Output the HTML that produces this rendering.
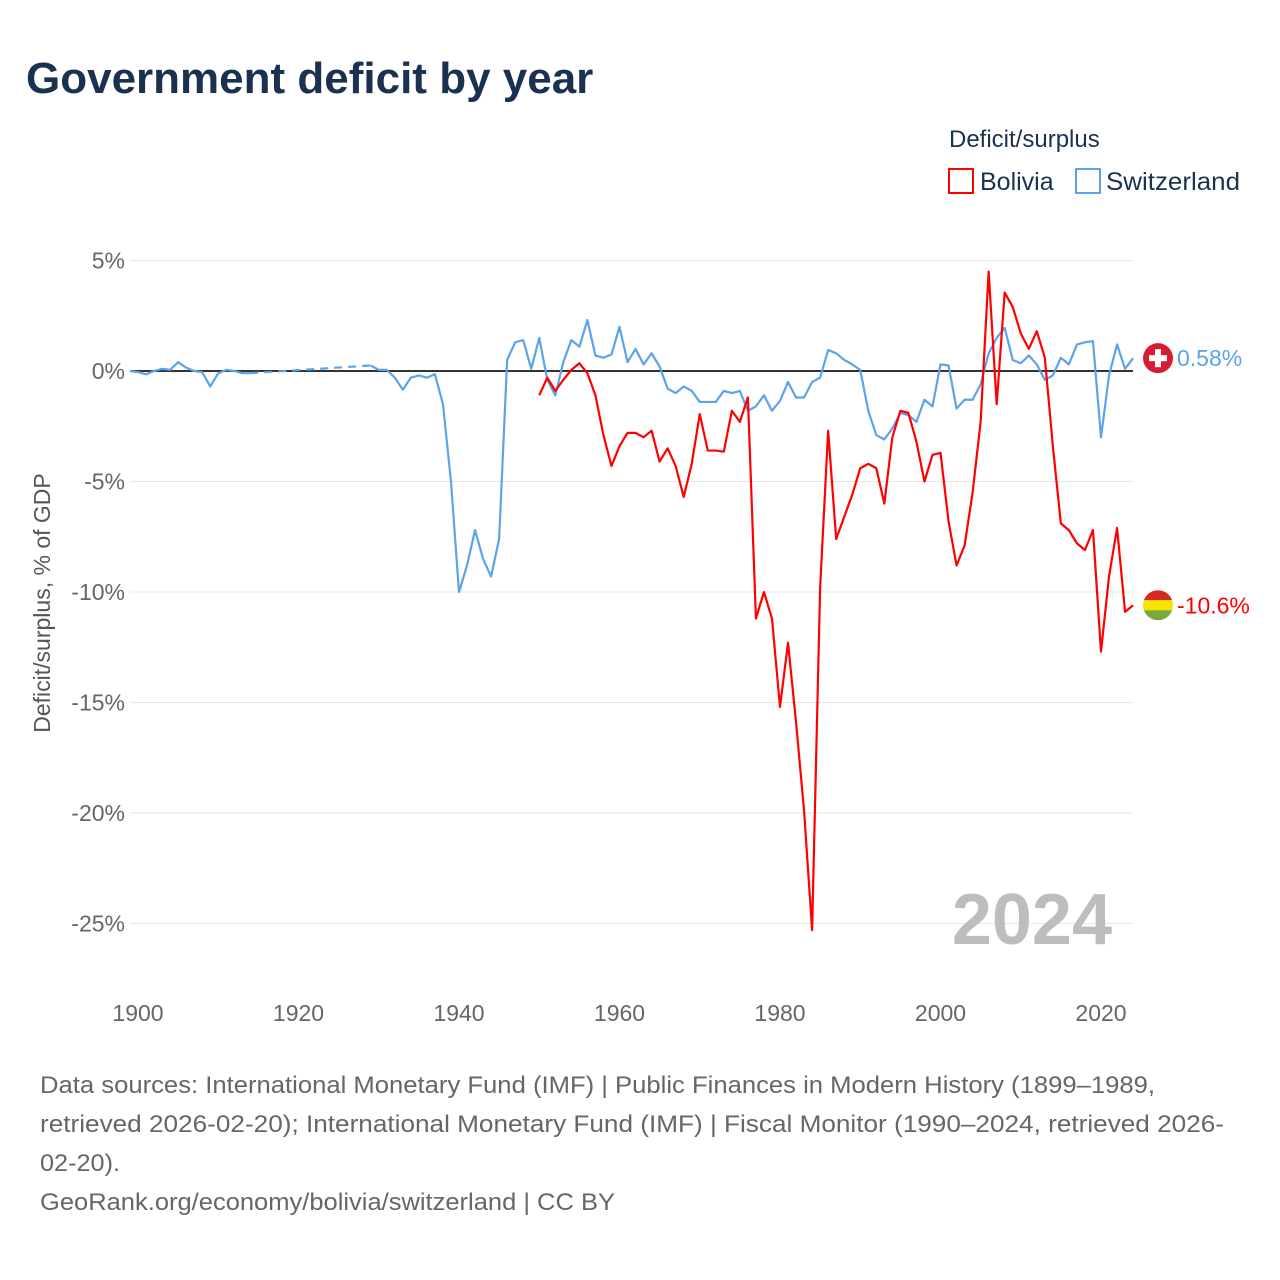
<!DOCTYPE html>
<html><head><meta charset="utf-8">
<style>
body{margin:0;background:#fff;font-family:"Liberation Sans",sans-serif;}
#wrap{position:relative;width:1280px;height:1280px;overflow:hidden;}
</style></head>
<body>
<div id="wrap">
<svg id="chart" width="1280" height="1280">
<text x="26" y="93" font-size="44" font-weight="bold" fill="#1a3150">Government deficit by year</text>
<text x="949" y="147" font-size="24" fill="#1a3150">Deficit/surplus</text>
<g><rect x="949" y="169" width="24" height="24" fill="none" stroke="#f00" stroke-width="2"/><text x="980" y="190" font-size="25" fill="#1a3150">Bolivia</text></g>
<g><rect x="1076" y="169" width="24" height="24" fill="none" stroke="#5ba3ea" stroke-width="2"/><text x="1106" y="190" font-size="25" fill="#1a3150" textLength="134" lengthAdjust="spacingAndGlyphs">Switzerland</text></g>
<g id="grid"></g>
<g id="xt"></g>
<text transform="translate(50,603) rotate(-90)" text-anchor="middle" font-size="23" fill="#555">Deficit/surplus, % of GDP</text>
<text x="1112" y="944" text-anchor="end" font-size="72" font-weight="bold" fill="#bdbdbd">2024</text>
<g id="series"></g>
<g id="ends"></g>
<text x="40" y="1093" font-size="24" fill="#666" textLength="1115" lengthAdjust="spacingAndGlyphs">Data sources: International Monetary Fund (IMF) | Public Finances in Modern History (1899–1989,</text>
<text x="40" y="1132" font-size="24" fill="#666" textLength="1184" lengthAdjust="spacingAndGlyphs">retrieved 2026-02-20); International Monetary Fund (IMF) | Fiscal Monitor (1990–2024, retrieved 2026-</text>
<text x="40" y="1171" font-size="24" fill="#666" textLength="80" lengthAdjust="spacingAndGlyphs">02-20).</text>
<text x="40" y="1210" font-size="24" fill="#666" textLength="575" lengthAdjust="spacingAndGlyphs">GeoRank.org/economy/bolivia/switzerland | CC BY</text>
</svg>
</div>
<script>
const yTicks=[5,0,-5,-10,-15,-20,-25];
const xTicks=[1900,1920,1940,1960,1980,2000,2020];
const swissStart=1899;
const swissValues=[0,-0.05,-0.15,0,0.1,0.05,0.4,0.15,0,-0.05,-0.7,-0.1,0.05,0,-0.1,-0.1,null,null,null,null,null,null,null,null,null,null,null,null,null,null,0.25,0.05,0.05,-0.3,-0.85,-0.3,-0.2,-0.3,-0.15,-1.5,-5,-10,-8.8,-7.2,-8.5,-9.3,-7.6,0.5,1.3,1.4,0.1,1.5,-0.4,-1.1,0.4,1.4,1.1,2.3,0.7,0.6,0.75,2.0,0.4,1.0,0.3,0.8,0.2,-0.8,-1.0,-0.7,-0.9,-1.4,-1.4,-1.4,-0.9,-1.0,-0.9,-1.8,-1.6,-1.1,-1.8,-1.35,-0.5,-1.2,-1.2,-0.5,-0.3,0.95,0.8,0.5,0.3,0.05,-1.8,-2.9,-3.1,-2.6,-1.9,-2.0,-2.3,-1.3,-1.6,0.3,0.25,-1.7,-1.3,-1.3,-0.6,0.8,1.5,1.95,0.5,0.35,0.7,0.3,-0.4,-0.2,0.6,0.3,1.2,1.3,1.35,-3.0,-0.2,1.2,0.1,0.58];
const boliviaStart=1950;
const boliviaValues=[-1.1,-0.3,-0.9,-0.4,0.05,0.35,-0.1,-1.1,-2.9,-4.3,-3.4,-2.8,-2.8,-3.0,-2.7,-4.1,-3.5,-4.3,-5.7,-4.2,-1.95,-3.6,-3.6,-3.65,-1.8,-2.3,-1.2,-11.2,-10.0,-11.2,-15.2,-12.3,-15.9,-19.9,-25.3,-9.8,-2.7,-7.6,-6.6,-5.6,-4.4,-4.2,-4.4,-6.0,-3.0,-1.8,-1.9,-3.2,-5.0,-3.8,-3.7,-6.8,-8.8,-7.9,-5.5,-2.3,4.5,-1.5,3.55,2.9,1.7,1.0,1.8,0.6,-3.4,-6.9,-7.2,-7.8,-8.1,-7.2,-12.7,-9.3,-7.1,-10.9,-10.6];
const X=y=>138+(y-1900)*8.025, Y=v=>371-v*22.1;
const NS='http://www.w3.org/2000/svg';
function mk(t,a,p){const e=document.createElementNS(NS,t);for(const k in a)e.setAttribute(k,a[k]);p.appendChild(e);return e;}
const grid=document.getElementById('grid');
yTicks.forEach(v=>{
 const l=mk('line',{x1:130,x2:1133,y1:Y(v),y2:Y(v),stroke:v===0?'#333':'#e6e6e6','stroke-width':v===0?2:1},grid);
 
 
 const t=mk('text',{x:125,y:Y(v)+8,'text-anchor':'end','font-size':23,fill:'#666'},grid);
 t.textContent=v+'%';
 
 
});
const xt=document.getElementById('xt');
xTicks.forEach(v=>{
 const t=mk('text',{x:X(v),y:1021,'text-anchor':'middle','font-size':23,fill:'#666'},xt);
 t.textContent=v;
 
 
});
function draw(start,vals,color,name){
 const g=document.getElementById('series');
 let segs=[],cur=[],last=null,dash=[];
 vals.forEach((v,i)=>{
  if(v===null){if(cur.length){segs.push(cur);cur=[];}return;}
  const p=[X(start+i),Y(v)];
  if(!cur.length&&last&&i-last.i>1)dash.push([last.p,p]);
  cur.push(p);last={i,p};
 });
 if(cur.length)segs.push(cur);
 segs.forEach(s=>{
  const pl=mk('polyline',{points:s.map(p=>p.join(',')).join(' '),fill:'none',stroke:color,'stroke-width':2.2,'stroke-linejoin':'round'},g);
  
  
 });
 dash.forEach(d=>{
  const l=mk('line',{x1:d[0][0],y1:d[0][1],x2:d[1][0],y2:d[1][1],stroke:color,'stroke-width':2.2,'stroke-dasharray':'8,6'},g);
  
  
 });
}
draw(swissStart,swissValues,'#5ba3ea','switzerland');
draw(boliviaStart,boliviaValues,'#ff0000','bolivia');
const ends=document.getElementById('ends');
const sv=swissValues[swissValues.length-1], bv=boliviaValues[boliviaValues.length-1];
const sy=Y(sv), by=Y(bv);
let g1=mk('g',{},ends);


mk('circle',{cx:1158,cy:sy,r:15,fill:'#da1a32'},g1);
mk('rect',{x:1155,y:sy-9,width:6,height:18,fill:'#fff'},g1);
mk('rect',{x:1149,y:sy-3,width:18,height:6,fill:'#fff'},g1);
let t1=mk('text',{x:1177,y:sy+8,'font-size':23,fill:'#5ba3ea'},ends);
t1.textContent=sv.toFixed(2)+'%';


let g2=mk('g',{},ends);


mk('clipPath',{id:'bc'},g2);
mk('circle',{cx:1158,cy:by,r:15},g2.lastChild);
const bf=mk('g',{'clip-path':'url(#bc)'},g2);
mk('rect',{x:1143,y:by-15,width:30,height:10,fill:'#d52b1e'},bf);
mk('rect',{x:1143,y:by-5,width:30,height:10,fill:'#f9e300'},bf);
mk('rect',{x:1143,y:by+5,width:30,height:10,fill:'#79a93a'},bf);
let t2=mk('text',{x:1177,y:by+8,'font-size':23,fill:'#ff0000'},ends);
t2.textContent=bv.toFixed(1)+'%';


</script>
</body></html>
